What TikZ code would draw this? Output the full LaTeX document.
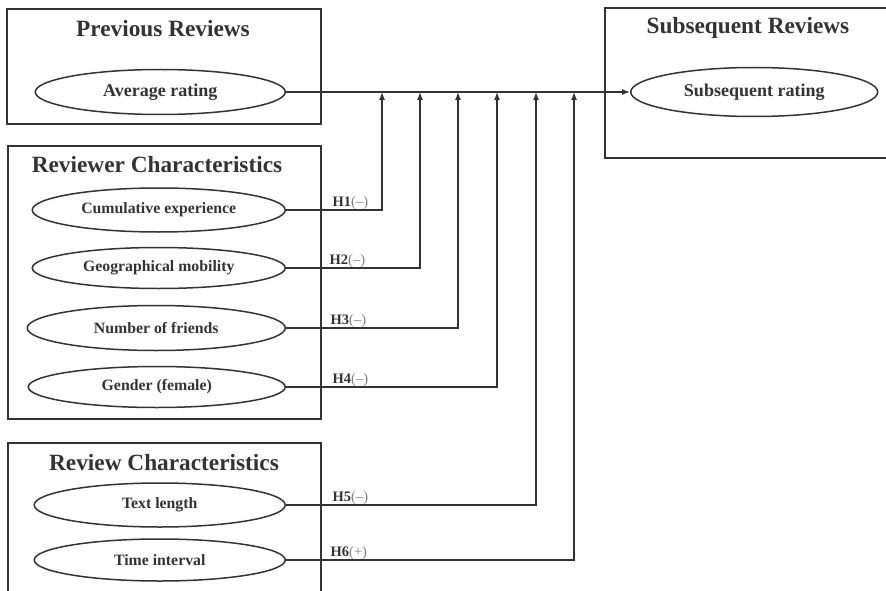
\documentclass[tikz,border=0pt]{standalone}
\usepackage{fontspec}
\setmainfont{Liberation Serif}
\usetikzlibrary{shapes.geometric,arrows.meta}
\definecolor{ink}{gray}{0.2}

\begin{document}
\begin{tikzpicture}[x=1pt,y=-1pt,line width=1.3pt,draw=ink,text=ink,
  rating/.style={ellipse,draw,line width=1.5pt,inner sep=0pt,anchor=east,font=\bfseries\fontsize{15.8}{18}\selectfont},
  bigrating/.style={rating,font=\bfseries\fontsize{18}{21}\selectfont},
  boxtitle/.style={font=\bfseries\fontsize{23.3}{27}\selectfont},
  frame/.style={draw,line width=1.8pt},
  hyp/.style={anchor=south west,inner sep=1pt,font=\fontsize{14.5}{17}\selectfont},
  link/.style={-{Latex[length=8pt,width=6pt]}}]
\useasboundingbox (0,0) rectangle (886,591);
\clip (0,0) rectangle (886,591);
\draw[frame] (7,9) rectangle (321,124);
\draw[frame] (8,146) rectangle (321,419);
\draw[frame] (8,443) rectangle (321,600);
\draw[frame] (605,8) rectangle (892,158);
\node[boxtitle] (prevt) at (163,29) {Previous Reviews};
\node[boxtitle] (revrt) at (157,165) {Reviewer Characteristics};
\node[boxtitle] (revt) at (164,463) {Review Characteristics};
\node[boxtitle] (subt) at (748,28) {Subsequent Reviews};
\node[bigrating,minimum width=250,minimum height=45] (avg) at (286,92) {Average rating};
\node[bigrating,anchor=west,minimum width=247,minimum height=49] (sub) at (630,92) {Subsequent rating};
\node[rating,minimum width=253,minimum height=44] (cum) at (286,210) {Cumulative experience};
\node[rating,minimum width=253,minimum height=41] (geo) at (286,268) {Geographical mobility};
\node[rating,minimum width=258,minimum height=45] (nfr) at (286,328) {Number of friends};
\node[rating,minimum width=257,minimum height=41] (gen) at (286,387) {Gender (female)};
\node[rating,minimum width=251,minimum height=44] (txt) at (286,505) {Text length};
\node[rating,minimum width=251,minimum height=42] (tim) at (286,560) {Time interval};
\draw[link] (avg.east) -- (sub.west);
\coordinate (m1) at (382,92);
\coordinate (m2) at (420,92);
\coordinate (m3) at (458,92);
\coordinate (m4) at (497,92);
\coordinate (m5) at (536,92);
\coordinate (m6) at (574,92);
\draw[link] (cum.east) -| (m1);
\draw[link] (geo.east) -| (m2);
\draw[link] (nfr.east) -| (m3);
\draw[link] (gen.east) -| (m4);
\draw[link] (txt.east) -| (m5);
\draw[link] (tim.east) -| (m6);
\node[hyp] (h1) at (331,211) {\textbf{H1}\textcolor{gray}{(--)}};
\node[hyp] (h2) at (328,269) {\textbf{H2}\textcolor{gray}{(--)}};
\node[hyp] (h3) at (329,329) {\textbf{H3}\textcolor{gray}{(--)}};
\node[hyp] (h4) at (331,388) {\textbf{H4}\textcolor{gray}{(--)}};
\node[hyp] (h5) at (331,506) {\textbf{H5}\textcolor{gray}{(--)}};
\node[hyp] (h6) at (329,561) {\textbf{H6}\textcolor{gray}{(+)}};
\end{tikzpicture}
\end{document}
